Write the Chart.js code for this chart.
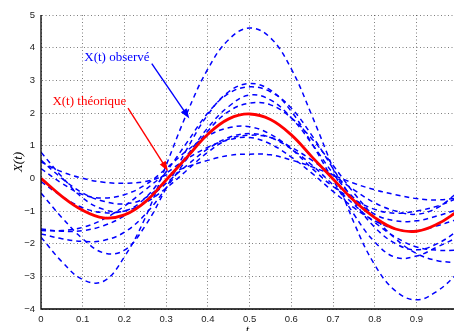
<!DOCTYPE html>
<html>
<head>
<meta charset="utf-8">
<script src="https://cdn.jsdelivr.net/npm/chart.js@4/dist/chart.umd.min.js"></script>
<style>
  html, body { margin: 0; padding: 0; background: #fff; }
  canvas { display: block; }
</style>
</head>
<body>
<canvas id="lineChart" width="454" height="331"></canvas>
<script>
// temps t
var tValues = [0, 0.05, 0.1, 0.15, 0.2, 0.25, 0.3, 0.35, 0.4, 0.45, 0.5,
               0.55, 0.6, 0.65, 0.7, 0.75, 0.8, 0.85, 0.9, 0.95, 1.0];

// X(t) théorique
var theorique = [0, -0.55, -0.98, -1.21, -1.12, -0.72, -0.05, 0.65, 1.35, 1.82, 1.97,
                 1.8, 1.33, 0.65, -0.02, -0.68, -1.2, -1.55, -1.62, -1.4, -1.0];

// X(t) observé (10 réalisations)
var obs1 = [-1.8, -2.55, -3.1, -3.15, -2.4, -1.2, 0.4, 2.0, 3.35, 4.25, 4.6,
            4.3, 3.35, 1.9, 0.3, -1.35, -2.65, -3.45, -3.72, -3.45, -2.9];
var obs2 = [-0.45, -1.2, -1.85, -2.28, -2.2, -1.45, -0.3, 0.9, 1.95, 2.65, 2.9,
            2.7, 2.05, 1.05, -0.05, -1.1, -1.95, -2.42, -2.38, -2.1, -1.8];
var obs3 = [0.8, 0.05, -0.6, -0.95, -1.0, -0.6, 0.2, 1.1, 2.0, 2.6, 2.8,
            2.65, 2.15, 1.3, 0.3, -0.7, -1.5, -2.0, -2.19, -2.0, -1.6];
var obs4 = [0.56, 0.0, -0.45, -0.7, -0.78, -0.6, -0.05, 0.7, 1.55, 2.2, 2.55,
            2.4, 1.85, 1.05, 0.15, -0.6, -1.1, -1.3, -1.3, -1.15, -0.95];
var obs5 = [-1.7, -1.85, -1.93, -1.9, -1.65, -1.1, -0.3, 0.6, 1.45, 2.05, 2.3,
            2.25, 1.85, 1.2, 0.4, -0.45, -1.2, -1.85, -2.3, -2.52, -2.58];
var obs6 = [0.3, -0.15, -0.5, -0.6, -0.5, -0.2, 0.3, 0.85, 1.3, 1.55, 1.58,
            1.35, 0.9, 0.3, -0.25, -0.65, -0.95, -1.07, -1.0, -0.85, -0.6];
var obs7 = [-1.55, -1.62, -1.6, -1.45, -1.15, -0.7, -0.15, 0.4, 0.9, 1.25, 1.37,
            1.25, 0.9, 0.4, -0.2, -0.8, -1.35, -1.8, -2.1, -2.2, -2.2];
var obs8 = [-1.6, -1.6, -1.5, -1.25, -0.85, -0.35, 0.15, 0.6, 0.95, 1.18, 1.25,
            1.05, 0.65, 0.15, -0.4, -0.9, -1.3, -1.55, -1.6, -1.45, -1.25];
var obs9 = [0.5, 0.2, 0.0, -0.12, -0.15, -0.1, 0.1, 0.35, 0.55, 0.7, 0.74,
            0.72, 0.56, 0.35, 0.1, -0.15, -0.35, -0.5, -0.62, -0.66, -0.6];
var obs10 = [-0.1, -0.55, -0.9, -1.05, -1.0, -0.75, -0.3, 0.25, 0.8, 1.2, 1.32,
             1.25, 0.95, 0.55, 0.1, -0.35, -0.75, -1.0, -1.1, -0.9, -0.42];

var observes = [obs1, obs2, obs3, obs4, obs5, obs6, obs7, obs8, obs9, obs10];

var yTicks = [-4, -3, -2, -1, 0, 1, 2, 3, 4, 5];

function toPoints(arr) {
  return arr.map(function (v, i) { return { x: tValues[i], y: v }; });
}

var datasets = [{
  label: 'X(t) théorique',
  data: toPoints(theorique),
  borderColor: 'rgb(255,0,0)',
  borderWidth: 2.8,
  pointRadius: 0,
  tension: 0.4,
  fill: false
}];
observes.forEach(function (arr, k) {
  datasets.push({
    label: 'X(t) observé ' + (k + 1),
    data: toPoints(arr),
    borderColor: 'rgb(0,0,255)',
    borderWidth: 1.5,
    borderDash: [5, 4],
    pointRadius: 0,
    tension: 0.4,
    fill: false
  });
});

// flèches + textes (en coordonnées des données)
var notes = [
  { text: 'X(t) observé', color: 'rgb(0,0,255)', tx: 0.182, ty: 3.7,
    from: [0.2655, 3.51], to: [0.3556, 1.83] },
  { text: 'X(t) théorique', color: 'rgb(255,0,0)', tx: 0.116, ty: 2.36,
    from: [0.2086, 2.15], to: [0.3046, 0.22] }
];

var notesPlugin = {
  id: 'notes',
  afterDatasetsDraw: function (chart) {
    var ctx = chart.ctx;
    var xs = chart.scales.x, ys = chart.scales.y;
    ctx.save();
    notes.forEach(function (n) {
      ctx.fillStyle = n.color;
      ctx.strokeStyle = n.color;
      ctx.font = '13px "Liberation Serif", "DejaVu Serif", serif';
      ctx.textAlign = 'center';
      ctx.textBaseline = 'middle';
      ctx.fillText(n.text, xs.getPixelForValue(n.tx), ys.getPixelForValue(n.ty));
      var x1 = xs.getPixelForValue(n.from[0]), y1 = ys.getPixelForValue(n.from[1]);
      var x2 = xs.getPixelForValue(n.to[0]), y2 = ys.getPixelForValue(n.to[1]);
      var a = Math.atan2(y2 - y1, x2 - x1);
      var L = 10, W = 3.5;
      ctx.lineWidth = 1.4;
      ctx.beginPath();
      ctx.moveTo(x1, y1);
      ctx.lineTo(x2 - L * 0.8 * Math.cos(a), y2 - L * 0.8 * Math.sin(a));
      ctx.stroke();
      ctx.beginPath();
      ctx.moveTo(x2, y2);
      ctx.lineTo(x2 - L * Math.cos(a) + W * Math.sin(a), y2 - L * Math.sin(a) - W * Math.cos(a));
      ctx.lineTo(x2 - L * Math.cos(a) - W * Math.sin(a), y2 - L * Math.sin(a) + W * Math.cos(a));
      ctx.closePath();
      ctx.fill();
    });
    // axes pleins (gauche et bas)
    var area = chart.chartArea;
    ctx.strokeStyle = '#000';
    ctx.lineWidth = 1.3;
    ctx.beginPath();
    ctx.moveTo(area.left, area.top);
    ctx.lineTo(area.left, area.bottom);
    ctx.lineTo(area.right, area.bottom);
    ctx.stroke();
    ctx.restore();
  }
};

var gridStyle = {
  color: 'rgba(0,0,0,0.5)',
  lineWidth: 1,
  drawTicks: false
};
var borderStyle = { display: true, color: 'rgba(0,0,0,0)', width: 1, dash: [1, 2.5] };

var lineConfig = {
  type: 'line',
  data: { datasets: datasets },
  options: {
    responsive: false,
    devicePixelRatio: 1,
    animation: false,
    layout: { padding: { top: 15, right: 0, left: 0, bottom: -7 } },
    plugins: { legend: { display: false }, tooltip: { enabled: false } },
    scales: {
      x: {
        type: 'linear',
        min: 0,
        max: 0.99,
        grid: gridStyle,
        border: borderStyle,
        ticks: {
          stepSize: 0.1,
          includeBounds: false,
          padding: 5,
          color: '#222',
          font: { family: '"Liberation Sans", Arial, sans-serif', size: 9.5 },
          maxRotation: 0,
          callback: function (v) { return Math.round(v * 10) / 10 + ''; }
        },
        title: {
          display: true, text: 't', color: '#000',
          font: { family: '"Liberation Serif", serif', size: 12, style: 'italic' },
          padding: { top: 0, bottom: 0 }
        },
        afterFit: function (s) { s.height = 29; }
      },
      y: {
        type: 'linear',
        min: -4,
        max: 5,
        grid: gridStyle,
        border: borderStyle,
        afterBuildTicks: function (s) { s.ticks = yTicks.map(function (v) { return { value: v }; }); },
        ticks: {
          padding: 6,
          color: '#222',
          font: { family: '"Liberation Sans", Arial, sans-serif', size: 9.5 },
          callback: function (v) { return (v < 0 ? '\u2212' + (-v) : '' + v); }
        },
        title: {
          display: true, text: 'X(t)', color: '#000',
          font: { family: '"Liberation Serif", serif', size: 13, style: 'italic' },
          padding: { top: 11, bottom: 0 }
        },
        afterFit: function (s) { s.width = 41; }
      }
    }
  },
  plugins: [notesPlugin]
};

var lineChart = new Chart(
  document.getElementById('lineChart'),
  lineConfig
);
</script>
</body>
</html>
